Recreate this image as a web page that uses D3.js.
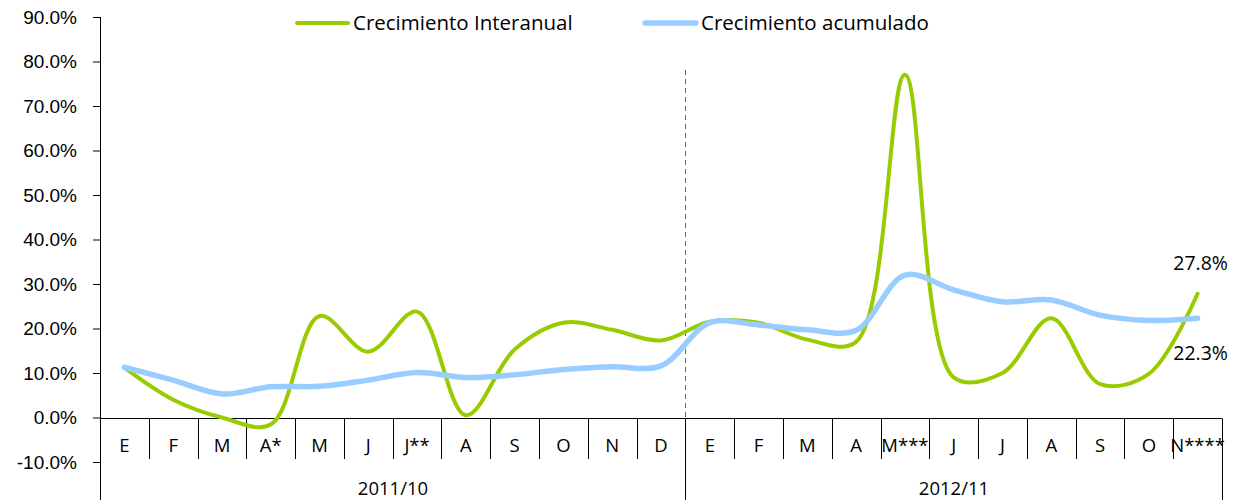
<!DOCTYPE html>
<html>
<head>
<meta charset="utf-8">
<script src="https://cdn.jsdelivr.net/npm/d3@7"></script>
<style>
  body { margin: 0; background: #fff; }
  svg { font-family: "Open Sans", sans-serif; }
  .tick text { font-size: 19px; fill: #000; }
</style>
</head>
<body>
<div id="wrapper"></div>
<script>
const months = ["E", "F", "M", "A*", "M", "J", "J**", "A", "S", "O", "N", "D",
  "E", "F", "M", "A", "M***", "J", "J", "A", "S", "O", "N****"];
const years = ["2011/10", "2012/11"];
const yearSize = [12, 11];
const interanual = [11.2, 4.0, 0.0, -1.6, 22.8, 14.8, 23.8, 0.5, 15.3, 21.3, 19.7, 17.3,
  21.5, 21.3, 17.5, 17.0, 77.0, 9.0, 10.0, 22.3, 7.5, 9.8, 27.8];
const acumulado = [11.3, 8.4, 5.3, 6.9, 7.0, 8.4, 10.1, 9.0, 9.6, 10.8, 11.4, 11.6,
  21.3, 20.8, 19.7, 19.6, 32.0, 28.7, 26.0, 26.4, 23.0, 21.8, 22.3];
const yTicks = [-10, 0, 10, 20, 30, 40, 50, 60, 70, 80, 90];
const seriesNames = ["Crecimiento Interanual", "Crecimiento acumulado"];
const colors = ["#99CC00", "#99CCFF"];

const width = 1236, height = 500;
const svg = d3.select("#wrapper").append("svg")
  .attr("width", width).attr("height", height);

const idx = d3.range(months.length);
const x = d3.scaleBand().domain(idx).range([100, 1222]).paddingInner(0).paddingOuter(0);
const y = d3.scaleLinear().domain([-10, 90]).range([462, 17]);
const cx = (i) => x(i) + x.bandwidth() / 2;

// eje Y
const yAxis = svg.append("g")
  .attr("transform", "translate(100,0)")
  .call(d3.axisLeft(y).tickValues(yTicks).tickSize(7).tickPadding(16)
    .tickFormat((d) => d.toFixed(1) + "%"));
yAxis.select(".domain").remove();
yAxis.selectAll(".tick line").attr("stroke", "#000");
svg.append("line")
  .attr("x1", 100.5).attr("x2", 100.5)
  .attr("y1", y(90)).attr("y2", height)
  .attr("stroke", "#000");

// eje X en 0
const y0 = Math.round(y(0)) + 0.5;
svg.append("line")
  .attr("x1", 100).attr("x2", 1222)
  .attr("y1", y0).attr("y2", y0)
  .attr("stroke", "#000");

svg.selectAll(".sep")
  .data(d3.range(1, months.length))
  .join("line")
  .attr("class", "sep")
  .attr("x1", (i) => Math.round(x(i)) + 0.5)
  .attr("x2", (i) => Math.round(x(i)) + 0.5)
  .attr("y1", y0).attr("y2", 459)
  .attr("stroke", "#000");

const groupEdges = [0, yearSize[0], months.length];
const edgeX = (i) => Math.round(i === months.length ? 1222 : x(i)) + 0.5;
svg.selectAll(".gsep")
  .data(groupEdges)
  .join("line")
  .attr("class", "gsep")
  .attr("x1", edgeX)
  .attr("x2", edgeX)
  .attr("y1", y0).attr("y2", height)
  .attr("stroke", "#000");

svg.selectAll(".mlabel")
  .data(months)
  .join("text")
  .attr("class", "mlabel")
  .attr("x", (d, i) => cx(i))
  .attr("y", 452)
  .attr("text-anchor", "middle")
  .attr("font-size", 18.5)
  .text((d) => d);

svg.selectAll(".ylabel")
  .data(years)
  .join("text")
  .attr("class", "ylabel")
  .attr("x", (d, i) => (edgeX(groupEdges[i]) + edgeX(groupEdges[i + 1])) / 2)
  .attr("y", 495)
  .attr("text-anchor", "middle")
  .attr("font-size", 18.5)
  .text((d) => d);

// línea divisoria discontinua
const xDiv = edgeX(yearSize[0]);
svg.append("line")
  .attr("x1", xDiv).attr("x2", xDiv)
  .attr("y1", 70).attr("y2", y0)
  .attr("stroke", "#666")
  .attr("stroke-dasharray", "5,4");

// líneas
const line = d3.line()
  .x((d, i) => cx(i))
  .y((d) => y(d))
  .curve(d3.curveCatmullRom.alpha(0.5));

svg.append("path")
  .datum(interanual)
  .attr("d", line)
  .attr("fill", "none")
  .attr("stroke", colors[0])
  .attr("stroke-width", 4)
  .attr("stroke-linecap", "round");

svg.append("path")
  .datum(acumulado)
  .attr("d", line)
  .attr("fill", "none")
  .attr("stroke", colors[1])
  .attr("stroke-width", 5.5)
  .attr("stroke-linecap", "round");

// etiquetas finales
const last = months.length - 1;
svg.append("text")
  .attr("x", 1228).attr("y", 270)
  .attr("text-anchor", "end")
  .attr("font-size", 19.5)
  .text(interanual[last].toFixed(1) + "%");
svg.append("text")
  .attr("x", 1228).attr("y", 360)
  .attr("text-anchor", "end")
  .attr("font-size", 19.5)
  .text(acumulado[last].toFixed(1) + "%");

// leyenda
const legendX = [295, 643];
const legend = svg.selectAll(".legend")
  .data(seriesNames)
  .join("g")
  .attr("class", "legend")
  .attr("transform", (d, i) => `translate(${legendX[i]},23)`);
legend.append("line")
  .attr("x1", 2).attr("x2", 53)
  .attr("stroke", (d, i) => colors[i])
  .attr("stroke-width", (d, i) => i === 0 ? 4 : 5.5)
  .attr("stroke-linecap", "round");
legend.append("text")
  .attr("x", 58).attr("y", 7)
  .attr("font-size", 20.5)
  .text((d) => d);
</script>
</body>
</html>
